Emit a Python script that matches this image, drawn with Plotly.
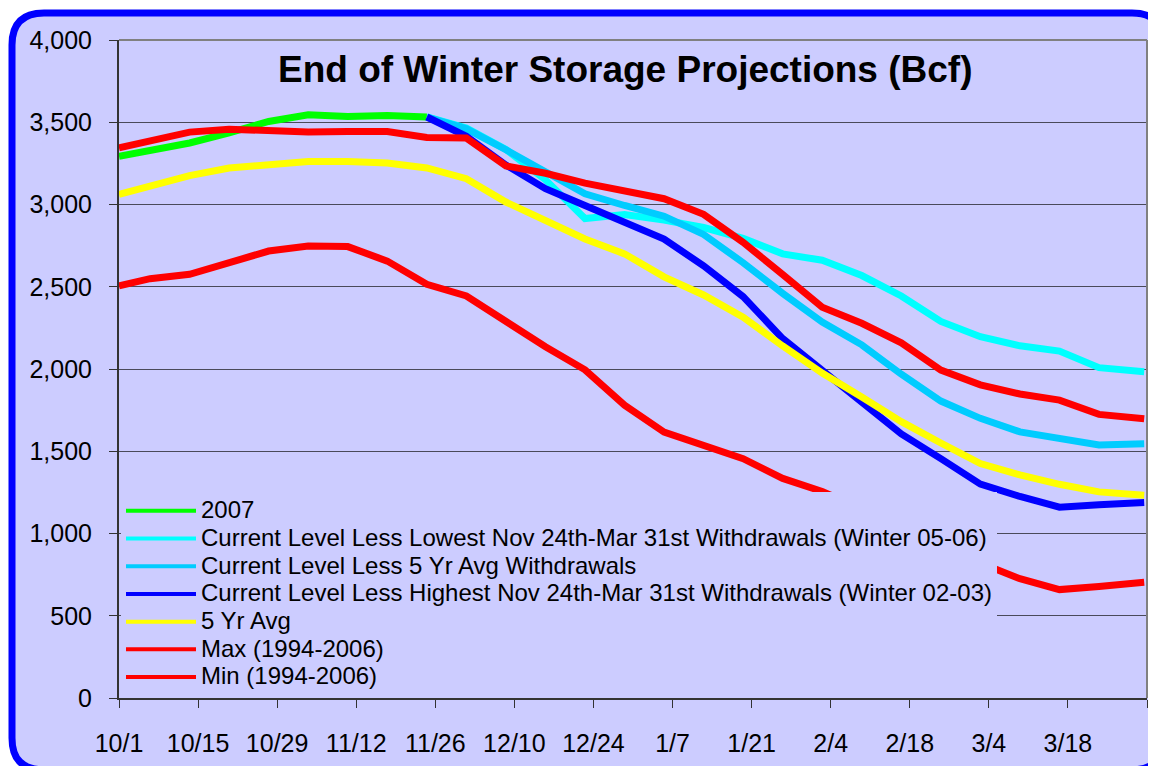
import plotly.graph_objects as go

# ---------------- data ----------------
dates = ["2006-10-01 00:00", "2006-10-06 12:00", "2006-10-13 12:00", "2006-10-20 12:00",
         "2006-10-27 12:00", "2006-11-03 12:00", "2006-11-10 12:00", "2006-11-17 12:00",
         "2006-11-24 12:00", "2006-12-01 12:00", "2006-12-08 12:00", "2006-12-15 12:00",
         "2006-12-22 12:00", "2006-12-29 12:00", "2007-01-05 12:00", "2007-01-12 12:00",
         "2007-01-19 12:00", "2007-01-26 12:00", "2007-02-02 12:00", "2007-02-09 12:00",
         "2007-02-16 12:00", "2007-02-23 12:00", "2007-03-02 12:00", "2007-03-09 12:00",
         "2007-03-16 12:00", "2007-03-23 12:00", "2007-03-31 12:00"]

dates_2007 = dates[:9]
dates_proj = dates[8:]

s2007 = [3293, 3330, 3374, 3435, 3505, 3545, 3535, 3541, 3532]
less_lowest = [3532, 3465, 3335, 3150, 2915, 2939, 2905, 2860, 2794, 2700, 2661, 2568,
               2444, 2289, 2196, 2141, 2109, 2008, 1983]
less_5yr = [3532, 3460, 3333, 3200, 3065, 2994, 2929, 2818, 2646, 2460, 2285, 2147,
            1968, 1805, 1700, 1618, 1577, 1538, 1545]
less_highest = [3532, 3415, 3240, 3096, 2994, 2887, 2790, 2627, 2440, 2185, 1990, 1790,
                1605, 1455, 1300, 1225, 1160, 1175, 1188]
avg5 = [3061, 3115, 3176, 3222, 3242, 3262, 3262, 3252, 3222, 3157, 3015, 2905, 2790, 2700,
        2560, 2450, 2315, 2140, 1975, 1830, 1680, 1550, 1425, 1356, 1299, 1253, 1232]
max_9406 = [3344, 3384, 3440, 3458, 3450, 3440, 3444, 3444, 3408, 3404, 3235, 3190, 3130,
            3080, 3035, 2940, 2770, 2574, 2375, 2278, 2159, 1993, 1904, 1848, 1811, 1724, 1697]
min_9406 = [2505, 2549, 2576, 2650, 2717, 2747, 2744, 2656, 2515, 2444, 2285, 2135, 1995,
            1780, 1616, 1535, 1455, 1335, 1255, 1150, 1040, 930, 820, 725, 659, 678, 703]

tick_vals = ["2006-10-01", "2006-10-15", "2006-10-29", "2006-11-12", "2006-11-26",
             "2006-12-10", "2006-12-24", "2007-01-07", "2007-01-21", "2007-02-04",
             "2007-02-18", "2007-03-04", "2007-03-18", "2007-04-01"]
tick_text = ["10/1", "10/15", "10/29", "11/12", "11/26", "12/10", "12/24", "1/7", "1/21",
             "2/4", "2/18", "3/4", "3/18", ""]

series = [
    ("2007", dates_2007, s2007, "#00FF00"),
    ("Current Level Less Lowest Nov 24th-Mar 31st Withdrawals (Winter 05-06)", dates_proj, less_lowest, "#00FFFF"),
    ("Current Level Less 5 Yr Avg Withdrawals", dates_proj, less_5yr, "#00CCFF"),
    ("Current Level Less Highest Nov 24th-Mar 31st Withdrawals (Winter 02-03)", dates_proj, less_highest, "#0000FF"),
    ("5 Yr Avg", dates, avg5, "#FFFF00"),
    ("Max (1994-2006)", dates, max_9406, "#FF0000"),
    ("Min (1994-2006)", dates, min_9406, "#FF0000"),
]

FONT = "Liberation Sans, Arial, sans-serif"
BG = "#CCCCFF"
LEG_TEXT = 24

fig = go.Figure()
for i, (name, xs, ys, col) in enumerate(series):
    fig.add_trace(go.Scatter(x=xs, y=ys, mode="lines", name=name,
                             legendgroup=f"g{i}", showlegend=False,
                             line=dict(color=col, width=7)))
# legend entries (thinner sample lines, as in the original)
for i, (name, xs, ys, col) in enumerate(series):
    fig.add_trace(go.Scatter(x=[None], y=[None], mode="lines",
                             name=f'<span style="font-size:{LEG_TEXT}px">{name}</span>',
                             legendgroup=f"g{i}", showlegend=True,
                             line=dict(color=col, width=4)))

# page body has an 8px margin: the figure is laid out in window px minus 8
OFF = 8
W, H = 1156 - OFF, 766 - OFF
L, T = 119 - OFF, 40 - OFF
R = W - (1147 - OFF)
B = H - (700 - OFF)
pw, ph = W - L - R, H - T - B


def px_x(p):
    return (p - OFF - L) / pw


def px_y(p):
    return (H - B - (p - OFF)) / ph


# rounded frame
x0, x1 = px_x(12), px_x(1164)
y0, y1 = px_y(772), px_y(13)
rx, ry = 32 / pw, 32 / ph
path = (f"M {x0+rx},{y1} L {x1-rx},{y1} Q {x1},{y1} {x1},{y1-ry} "
        f"L {x1},{y0+ry} Q {x1},{y0} {x1-rx},{y0} L {x0+rx},{y0} "
        f"Q {x0},{y0} {x0},{y0+ry} L {x0},{y1-ry} Q {x0},{y1} {x0+rx},{y1} Z")

shapes = [
    dict(type="path", path=path, xref="paper", yref="paper", layer="below",
         fillcolor=BG, line=dict(color="#0000FF", width=7)),
    dict(type="line", xref="paper", yref="paper", x0=0, x1=1, y0=1, y1=1,
         line=dict(color="#808080", width=2), layer="above"),
    dict(type="line", xref="paper", yref="paper", x0=1, x1=1, y0=0, y1=1,
         line=dict(color="#808080", width=2), layer="above"),
]

fig.update_layout(
    width=W, height=H,
    margin=dict(l=L, r=R, t=T, b=B),
    paper_bgcolor="white",
    plot_bgcolor=BG,
    shapes=shapes,
    font=dict(family=FONT, color="black"),
    showlegend=True,
    legend=dict(x=px_x(121), y=px_y(698), xanchor="left", yanchor="bottom",
                bgcolor=BG, borderwidth=0, font=dict(size=19, family=FONT),
                itemwidth=70, traceorder="normal", tracegroupgap=0),
    annotations=[dict(text="<b>End of Winter Storage Projections (Bcf)</b>",
                      xref="paper", yref="paper", x=px_x(625), y=px_y(70),
                      xanchor="center", yanchor="middle", showarrow=False,
                      font=dict(size=37, family=FONT, color="black"))],
)

fig.update_xaxes(type="date", range=["2006-10-01", "2007-04-01"],
                 tickvals=tick_vals, ticktext=tick_text,
                 ticks="outside", ticklen=8, tickwidth=1, tickcolor="#333333",
                 showline=True, linecolor="#333333", linewidth=2,
                 showgrid=False, zeroline=False,
                 tickfont=dict(size=25, family=FONT), ticklabelstandoff=14)

fig.update_yaxes(range=[0, 4000], dtick=500, tick0=0, tickformat=",",
                 ticks="outside", ticklen=8, tickwidth=1, tickcolor="#333333",
                 showline=True, linecolor="#333333", linewidth=2,
                 showgrid=True, gridcolor="#4a4a5a", gridwidth=1, zeroline=False,
                 tickfont=dict(size=25, family=FONT), ticklabelstandoff=12)

fig.write_html("out.html")
